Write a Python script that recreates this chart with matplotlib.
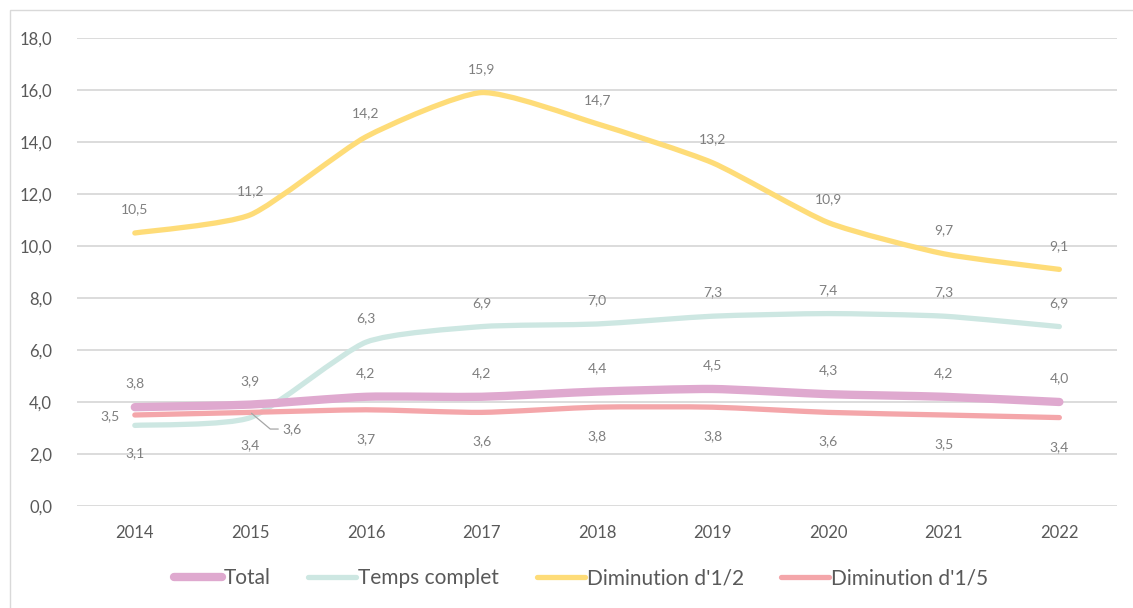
import matplotlib
matplotlib.use('Agg')
from matplotlib import pyplot as plt
from matplotlib.path import Path
from matplotlib.patches import PathPatch, Rectangle
from matplotlib.lines import Line2D
import numpy as np

plt.rcParams['font.family'] = ['Lato', 'DejaVu Sans']

years = ['2014', '2015', '2016', '2017', '2018', '2019', '2020', '2021', '2022']
total = [3.8, 3.9, 4.2, 4.2, 4.4, 4.5, 4.3, 4.2, 4.0]
temps_complet = [3.1, 3.4, 6.3, 6.9, 7.0, 7.3, 7.4, 7.3, 6.9]
dim_demi = [10.5, 11.2, 14.2, 15.9, 14.7, 13.2, 10.9, 9.7, 9.1]
dim_cinquieme = [3.5, 3.6, 3.7, 3.6, 3.8, 3.8, 3.6, 3.5, 3.4]

series = [
    ('Total', total, '#dfa9cf', 6.0),
    ('Temps complet', temps_complet, '#cde7e2', 3.8),
    ("Diminution d'1/2", dim_demi, '#fedc78', 3.8),
    ("Diminution d'1/5", dim_cinquieme, '#f4a6aa', 3.8),
]


def smooth_path(xs, ys, k=10.0):
    # smoothed line drawn as cubic bezier segments (Excel style, light tension)
    pts = np.column_stack([xs, ys]).astype(float)
    n = len(pts)
    verts = [pts[0]]
    codes = [Path.MOVETO]
    for i in range(n - 1):
        p0 = pts[max(i - 1, 0)]
        p1 = pts[i]
        p2 = pts[i + 1]
        p3 = pts[min(i + 2, n - 1)]
        c1 = p1 + (p2 - p0) / k
        c2 = p2 - (p3 - p1) / k
        verts += [c1, c2, p2]
        codes += [Path.CURVE4] * 3
    return Path(verts, codes)


fig = plt.figure(figsize=(11.33, 6.08), dpi=100)
ax = fig.add_axes([0.068, 0.1678, 0.918, 0.7697])
fig.patches.append(Rectangle((10 / 1133, -0.01), 1.0, 1 - 10 / 608 + 0.01, transform=fig.transFigure,
                             fill=False, edgecolor='#d9d9d9', linewidth=1.0))

x = np.arange(len(years))
order = ['Temps complet', "Diminution d'1/2", 'Total', "Diminution d'1/5"]
for name, vals, color, lw in sorted(series, key=lambda s: order.index(s[0])):
    patch = PathPatch(smooth_path(x, vals), facecolor='none', edgecolor=color, linewidth=lw,
                      capstyle='round', joinstyle='round', zorder=3)
    ax.add_patch(patch)

lab_color = '#7f7f7f'
lab_size = 10


def fmt(v):
    return f'{v:.1f}'.replace('.', ',')


def label(xi, v, dx, dy, **kw):
    ax.annotate(fmt(v), (xi, v), xytext=(dx, dy), textcoords='offset points',
                ha='center', va='center', fontsize=lab_size, color=lab_color, zorder=5, **kw)


for i, v in enumerate(dim_demi):
    label(i, v, 0, 17)
for i, v in enumerate(total):
    label(i, v, 0, 17)
for i, v in enumerate(temps_complet):
    if i < 2:
        label(i, v, 0, -20)
    else:
        label(i, v, 0, 17)
for i, v in enumerate(dim_cinquieme):
    if i == 0:
        label(i, v, -18, -1)
    elif i == 1:
        label(i, v, 30, -12, arrowprops=dict(arrowstyle='-', color='#a6a6a6', lw=0.9,
                                             shrinkA=1, shrinkB=1,
                                             connectionstyle='angle,angleA=0,angleB=-40,rad=0'))
    else:
        label(i, v, 0, -21)

ax.set_xlim(-0.5, len(years) - 0.5)
ax.set_ylim(0, 18)
ax.set_yticks(np.arange(0, 18.1, 2))
ax.set_yticklabels([fmt(t) for t in np.arange(0, 18.1, 2)])
ax.set_xticks(x)
ax.set_xticklabels(years)
ax.tick_params(axis='both', length=0, labelsize=12, labelcolor='#595959')
ax.tick_params(axis='x', pad=14)
ax.tick_params(axis='y', pad=18)
ax.grid(axis='y', color='#d9d9d9', linewidth=1.3)
ax.set_axisbelow(True)
for s in ax.spines.values():
    s.set_visible(False)

handles = [Line2D([0], [0], color=c, lw=lw, solid_capstyle='round') for _, _, c, lw in series]
fig.legend(handles, [s[0] for s in series], loc='center', bbox_to_anchor=(0.513, 0.049), ncol=4,
           frameon=False, fontsize=15, handlelength=2.3, handletextpad=0.1, columnspacing=1.8,
           labelcolor='#595959')

plt.savefig('out.png', dpi=100)
